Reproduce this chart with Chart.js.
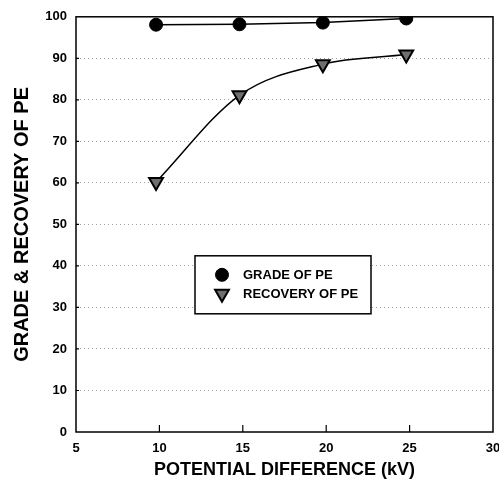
<!DOCTYPE html>
<html>
<head>
<meta charset="utf-8">
<script src="https://cdn.jsdelivr.net/npm/chart.js@4/dist/chart.umd.min.js"></script>
<style>
  html, body { margin: 0; padding: 0; background: #fff; overflow: hidden; }
  canvas { display: block; }
</style>
</head>
<body>
<canvas id="myChart" width="520" height="490"></canvas>
<script>
// potential difference (kV)
const voltage = [9.8, 14.8, 19.8, 24.8];
const gradePE = [98.1, 98.2, 98.6, 99.6];
const recoveryPE = [60.2, 81.1, 88.6, 90.9];

const xTicks = [5, 10, 15, 20, 25, 30];
const yTicks = [0, 10, 20, 30, 40, 50, 60, 70, 80, 90, 100];

Chart.defaults.font.family = "'Liberation Sans', Arial, sans-serif";
Chart.defaults.font.weight = "bold";
Chart.defaults.color = "#000";

function toPoints(ys) {
  return voltage.map((x, i) => ({ x: x, y: ys[i] }));
}

// box round the plot + small inward tick marks
const frame = {
  id: "frame",
  afterDatasetsDraw(chart) {
    const { ctx, chartArea: a, scales } = chart;
    ctx.save();
    ctx.strokeStyle = "#000";
    ctx.lineWidth = 1.5;
    ctx.strokeRect(a.left, a.top, a.right - a.left, a.bottom - a.top);
    ctx.lineWidth = 1.2;
    ctx.beginPath();
    xTicks.slice(1, -1).forEach(v => {
      const px = scales.x.getPixelForValue(v);
      ctx.moveTo(px, a.bottom);
      ctx.lineTo(px, a.bottom - 7);
    });
    yTicks.slice(1, -1).forEach(v => {
      const py = scales.y.getPixelForValue(v);
      ctx.moveTo(a.left, py);
      ctx.lineTo(a.left + 3, py);
    });
    ctx.stroke();
    ctx.restore();
  }
};

// legend sits inside the plot, so draw it by hand
const insideLegend = {
  id: "insideLegend",
  afterDraw(chart) {
    const { ctx, chartArea: a } = chart;
    const bx = a.left + 119, by = a.top + 239, bw = 176, bh = 58;
    ctx.save();
    ctx.fillStyle = "#fff";
    ctx.fillRect(bx, by, bw, bh);
    ctx.strokeStyle = "#000";
    ctx.lineWidth = 1.5;
    ctx.strokeRect(bx, by, bw, bh);
    ctx.font = "bold 13px 'Liberation Sans', Arial, sans-serif";
    ctx.textBaseline = "middle";
    chart.data.datasets.forEach((ds, i) => {
      const cy = by + 19 + i * 19;
      ctx.fillStyle = ds.pointBackgroundColor;
      ctx.strokeStyle = ds.pointBorderColor;
      ctx.lineWidth = ds.pointBorderWidth;
      Chart.helpers.drawPoint(ctx, {
        pointStyle: ds.pointStyle,
        radius: ds.pointRadius,
        rotation: ds.pointRotation || 0,
        borderWidth: ds.pointBorderWidth
      }, bx + 27, cy);
      ctx.fillStyle = "#000";
      ctx.fillText(ds.label, bx + 48, cy + 1);
    });
    ctx.restore();
  }
};

new Chart("myChart", {
  type: "line",
  data: {
    datasets: [
      {
        label: "GRADE OF PE",
        data: toPoints(gradePE),
        borderColor: "#000",
        borderWidth: 1.5,
        pointStyle: "circle",
        pointRadius: 6.5,
        pointBackgroundColor: "#000",
        pointBorderColor: "#000",
        pointBorderWidth: 1,
        tension: 0
      },
      {
        label: "RECOVERY OF PE",
        data: toPoints(recoveryPE),
        borderColor: "#000",
        borderWidth: 1.5,
        pointStyle: "triangle",
        pointRotation: 180,
        pointRadius: 8,
        pointBackgroundColor: "#6e6e6e",
        pointBorderColor: "#000",
        pointBorderWidth: 2,
        cubicInterpolationMode: "monotone"
      }
    ]
  },
  options: {
    responsive: false,
    animation: false,
    layout: { padding: { left: 0, right: 27, top: 15, bottom: 0 } },
    plugins: {
      legend: { display: false },
      tooltip: { enabled: false }
    },
    scales: {
      x: {
        type: "linear",
        min: 5,
        max: 30,
        afterBuildTicks: s => { s.ticks = xTicks.map(v => ({ value: v })); },
        afterFit: s => { s.height = 58; },
        grid: { display: false, drawTicks: false },
        border: { display: false },
        ticks: { padding: 9, font: { size: 13, weight: "bold" }, maxRotation: 0 },
        title: {
          display: true,
          text: "POTENTIAL DIFFERENCE (kV)",
          font: { size: 18, weight: "bold" },
          padding: { top: 0, bottom: 9 }
        }
      },
      y: {
        min: 0,
        max: 100,
        afterBuildTicks: s => { s.ticks = yTicks.map(v => ({ value: v })); },
        afterFit: s => { s.width = 76; },
        grid: {
          drawTicks: false,
          color: c => (c.tick && (c.tick.value === 0 || c.tick.value === 100)) ? "rgba(0,0,0,0)" : "#a0a0a0",
          lineWidth: 1
        },
        border: { display: false, dash: [1, 3] },
        ticks: { padding: 9, font: { size: 13, weight: "bold" } },
        title: {
          display: true,
          text: "GRADE & RECOVERY OF PE",
          font: { size: 20, weight: "bold" },
          padding: { top: 10, bottom: 0 }
        }
      }
    }
  },
  plugins: [frame, insideLegend]
});
</script>
</body>
</html>
